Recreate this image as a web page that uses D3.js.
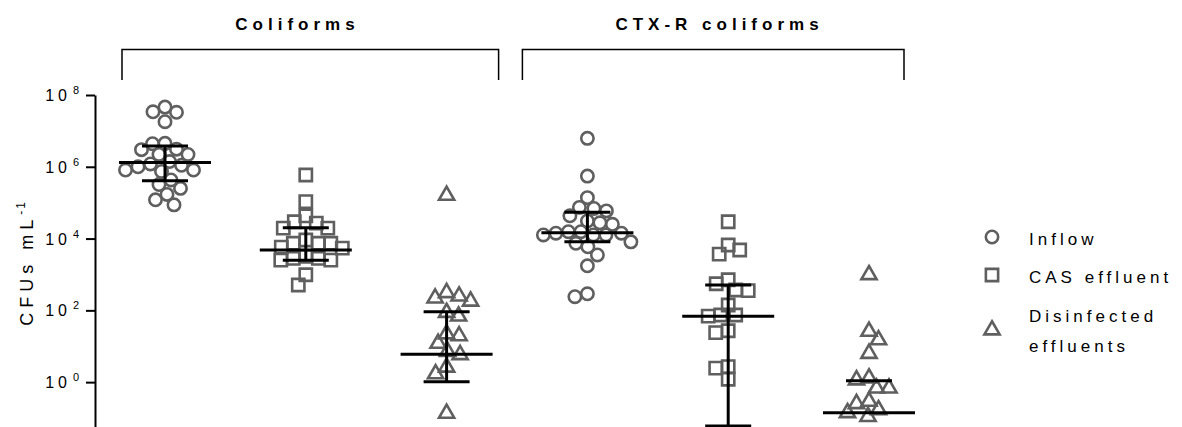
<!DOCTYPE html>
<html>
<head>
<meta charset="utf-8">
<script src="https://cdn.jsdelivr.net/npm/d3@7/dist/d3.min.js"></script>
<style>
  body { margin: 0; background: #fff; }
  svg { display: block; font-family: "Liberation Sans", Arial, sans-serif; }
</style>
</head>
<body>
<svg id="chart"></svg>
<script>
// ---- data ----
const groups = ["Coliforms|Inflow", "Coliforms|CAS", "Coliforms|Dis", "CTX|Inflow", "CTX|CAS", "CTX|Dis"];
const groupKind = ["inflow", "cas", "dis", "inflow", "cas", "dis"];
const panelTitles = ["Coliforms", "CTX-R coliforms"];
const legendLabels = [["Inflow"], ["CAS effluent"], ["Disinfected", "effluents"]];
const tickValues = [1, 1e2, 1e4, 1e6, 1e8];
const tickExponents = ["0", "2", "4", "6", "8"];

const coliInflow = [4.6e7, 3.3e7, 1.8e7, 3.4e7, 4.4e6, 3.0e6, 2.2e6, 2.2e6, 3.1e6, 4.5e6, 1.4e6, 1.0e6,
    8.1e5, 4.3e5, 3.2e5, 7.4e5, 8.1e5, 1.1e6, 1.2e6, 1.7e5, 8.7e4, 1.2e5, 2.5e5];
const coliCas = [5.9e5, 1.07e5, 4.3e4, 2.7e4, 1.95e4, 1.95e4, 2.95e4, 9.1e3, 7.4e3, 5.4e3, 7.4e3, 5.8e3,
    7.4e3, 3.2e3, 2.5e3, 2.5e3, 2.8e3, 2.8e3, 980, 510];
const coliDis = [1.6e5, 220, 310, 180, 250, 87, 69, 19.5, 22, 12, 7.1, 5.8, 2.6, 1.7, 0.135];
const ctxInflow = [6.2e6, 5.5e5, 1.38e5, 6.9e4, 5.9e4, 4.3e4, 7.4e4, 3.1e4, 2.5e4, 2.75e4, 1.55e4, 1.26e4,
    1.41e4, 1.26e4, 1.41e4, 1.55e4, 1.26e4, 8.1e3, 7.4e3, 5.9e3, 3.5e3, 1.74e3, 240, 290];
const ctxCas = [2.95e4, 6.6e3, 3.7e3, 4.8e3, 710, 550, 370, 355, 141, 74, 69, 74, 27, 24, 2.7, 2.45, 1.2];
const ctxDis = [980, 26, 15, 6.3, 1.3, 1.15, 0.68, 0.68, 0.29, 0.17, 0.11, 0.14, 0.25];
const seriesValues = [coliInflow, coliCas, coliDis, ctxInflow, ctxCas, ctxDis];

const medians = [1.32e6, 4.8e3, 6.0, 1.45e4, 68, 0.14];
const upperBars = [3.8e6, 2.0e4, 91, 5.4e4, 510, 1.1];
const lowerBars = [4.1e5, 2.5e3, 1.02, 8.1e3, 0.06, null];

// ---- layout ----
const width = 1182;
const height = 427;
const gray = "#5f5f5f";

const svg = d3.select("#chart").attr("width", width).attr("height", height);

const y = d3.scaleLog().domain([Math.pow(10, -1.25), 1e8]).range([427, 95]);
const x = d3.scalePoint().domain(groups).range([165, 869]);

const symbolType = { inflow: d3.symbolCircle, cas: d3.symbolSquare, dis: d3.symbolTriangle };
const symbolSize = { inflow: 120, cas: 150, dis: 100 };
const symbolPath = kind => d3.symbol().type(symbolType[kind]).size(symbolSize[kind])();

// simple beeswarm: place points top-down at the nearest free horizontal offset
function swarm(values, minDist) {
    const pts = values.map(v => ({ v: v, py: y(v) })).sort((a, b) => a.py - b.py);
    const placed = [];
    let flip = 1;
    pts.forEach(p => {
        for (let k = 0; k < 400; k++) {
            const cands = k === 0 ? [0] : [flip * k * 0.5, -flip * k * 0.5];
            const ok = cands.find(dx => placed.every(q => (q.dx - dx) ** 2 + (q.py - p.py) ** 2 >= minDist * minDist));
            if (ok !== undefined) { p.dx = ok; break; }
        }
        flip = -flip;
        placed.push(p);
    });
    return placed;
}

// y axis
const axis = d3.axisLeft(y).tickValues(tickValues).tickFormat("").tickSize(9).tickSizeOuter(0);
const gAxis = svg.append("g").attr("transform", "translate(95,0)").call(axis);
gAxis.select(".domain").attr("stroke", "#000").attr("stroke-width", 2);
gAxis.selectAll(".tick line").attr("stroke", "#000").attr("stroke-width", 2);

svg.append("g").selectAll("text")
    .data(tickValues)
    .join("text")
    .attr("x", 71)
    .attr("y", d => y(d) + 6)
    .attr("text-anchor", "end")
    .style("font-size", "16px")
    .style("letter-spacing", "4px")
    .attr("fill", "#000")
    .text("10");
svg.append("g").selectAll("text")
    .data(tickValues)
    .join("text")
    .attr("x", 73)
    .attr("y", d => y(d) - 1)
    .style("font-size", "11px")
    .attr("fill", "#000")
    .text((d, i) => tickExponents[i]);

// y label
const ylab = svg.append("text")
    .attr("transform", "translate(33,263) rotate(-90)")
    .attr("text-anchor", "middle")
    .style("font-size", "18px")
    .style("letter-spacing", "5px")
    .attr("fill", "#000");
ylab.append("tspan").text("CFUs mL");
ylab.append("tspan").attr("dy", -8).style("font-size", "12px").style("letter-spacing", "2px").text("-1");

// panel brackets + titles
const brackets = [
    { title: panelTitles[0], x0: x(groups[0]) - 43, x1: x(groups[2]) + 52, tx: 295 },
    { title: panelTitles[1], x0: x(groups[3]) - 65, x1: x(groups[5]) + 35, tx: 717 }
];
const gBr = svg.append("g");
brackets.forEach(b => {
    gBr.append("path")
        .attr("d", `M${b.x0},80V49.5H${b.x1}V80`)
        .attr("fill", "none")
        .attr("stroke", "#000")
        .attr("stroke-width", 1.5);
    gBr.append("text")
        .attr("x", b.tx + 2.5)
        .attr("y", 30)
        .attr("text-anchor", "middle")
        .style("font-size", "17px")
        .style("font-weight", "bold")
        .style("letter-spacing", "5px")
        .attr("fill", "#000")
        .text(b.title);
});

// points
groups.forEach((g, i) => {
    const kind = groupKind[i];
    const pts = swarm(seriesValues[i], 12.5);
    svg.append("g").selectAll("path")
        .data(pts)
        .join("path")
        .attr("d", symbolPath(kind))
        .attr("transform", d => `translate(${x(g) + d.dx},${d.py})`)
        .attr("fill", "none")
        .attr("stroke", gray)
        .attr("stroke-width", 2.6);
});

// median + error bars
const gErr = svg.append("g").attr("stroke", "#000").attr("stroke-width", 3);
groups.forEach((g, i) => {
    const cx = x(g);
    gErr.append("line").attr("x1", cx - 46).attr("x2", cx + 46).attr("y1", y(medians[i])).attr("y2", y(medians[i]));
    gErr.append("line").attr("x1", cx - 23).attr("x2", cx + 23).attr("y1", y(upperBars[i])).attr("y2", y(upperBars[i]));
    if (lowerBars[i] !== null) {
        gErr.append("line").attr("x1", cx - 23).attr("x2", cx + 23).attr("y1", y(lowerBars[i])).attr("y2", y(lowerBars[i]));
        gErr.append("line").attr("x1", cx).attr("x2", cx).attr("y1", y(upperBars[i])).attr("y2", y(lowerBars[i]));
    }
});

// legend
const legendRows = [
    { kind: "inflow", sy: 237, ty: [245] },
    { kind: "cas", sy: 275, ty: [283] },
    { kind: "dis", sy: 330, ty: [322, 352] }
];
const gLeg = svg.append("g");
legendRows.forEach((r, i) => {
    gLeg.append("path")
        .attr("d", symbolPath(r.kind))
        .attr("transform", `translate(992,${r.sy})`)
        .attr("fill", "none")
        .attr("stroke", gray)
        .attr("stroke-width", 2.6);
    legendLabels[i].forEach((t, j) => {
        gLeg.append("text")
            .attr("x", 1029)
            .attr("y", r.ty[j])
            .style("font-size", "17px")
            .style("letter-spacing", "4px")
            .attr("fill", "#000")
            .text(t);
    });
});
</script>
</body>
</html>
